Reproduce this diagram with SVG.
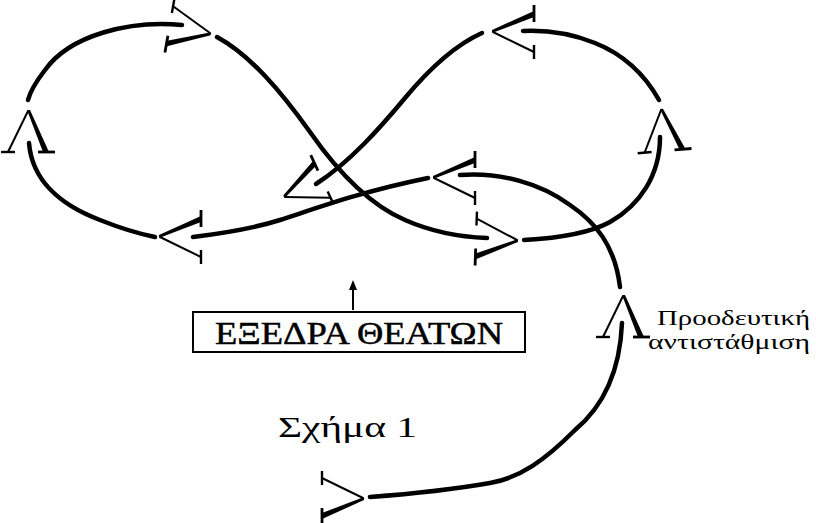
<svg xmlns="http://www.w3.org/2000/svg" width="816" height="523" viewBox="0 0 816 523">
<style>
.track{fill:none;stroke:#000;stroke-width:4.5;stroke-linecap:round;stroke-linejoin:round}
.lbl{font-family:"Liberation Serif","DejaVu Serif",serif;fill:#000}
</style>
<defs>
<g id="chev">
<path d="M-1,-1 L2,-1 L21,41 L15,41 Z" fill="#000"/>
<path d="M0,0 L-20,41" stroke="#000" stroke-width="2" fill="none"/>
<path d="M-27,41 H-13" stroke="#000" stroke-width="2.4" fill="none"/>
<path d="M10,41 H27" stroke="#000" stroke-width="2.8" fill="none"/>
</g>
<marker id="ah" viewBox="0 0 10 10" refX="5" refY="5" markerWidth="5" markerHeight="6" orient="auto">
<path d="M0,1 L10,5 L0,9 Z" fill="#000"/>
</marker>
</defs>
<rect width="816" height="523" fill="#fff"/>
<g id="connectors">
<path class="track" d="M182,25 C130,20 70,35 45,70 C35,83 30,92 28,100"/>
<path class="track" d="M29,143 C32,180 60,205 100,220 C120,228 140,234 155,237"/>
<path class="track" d="M193,237 C225,233 255,228 280,220 C320,207 360,192 428,178"/>
<path class="track" d="M460,175 C500,172 540,183 570,205 C595,222 615,245 620,287"/>
<path class="track" d="M622,323 C620,370 605,405 575,430 C545,460 520,478 490,483 C450,490 410,494 370,497"/>
<path class="track" d="M524,240 C560,238 590,233 610,222 C640,205 660,175 660,137"/>
<path class="track" d="M659,100 C645,75 625,55 595,43 C570,33 545,30 523,31"/>
<path class="track" d="M482,33 C455,45 430,68 405,98 C380,128 350,162 316,184"/>
<path class="track" d="M217,37 C250,55 280,90 310,132 C340,175 370,205 405,220 C430,231 460,237 487,238"/>
<path d="M353,310 V285" stroke="#000" stroke-width="2" fill="none" marker-end="url(#ah)"/>
</g>
<g id="chevrons">
<use href="#chev" transform="translate(210,33) rotate(100)"/>
<use href="#chev" transform="translate(28,111)"/>
<use href="#chev" transform="translate(160,237) rotate(-90)"/>
<use href="#chev" transform="translate(434,178) rotate(-90)"/>
<use href="#chev" transform="translate(623,296)"/>
<use href="#chev" transform="translate(363,498) rotate(90)"/>
<use href="#chev" transform="translate(517,240) rotate(92)"/>
<use href="#chev" transform="translate(661,110) rotate(-5)"/>
<use href="#chev" transform="translate(493,32) rotate(-90)"/>
<use href="#chev" transform="translate(285,197) rotate(-115)"/>
</g>
<g id="node-stands">
<rect x="193" y="312" width="332" height="40" fill="none" stroke="#000" stroke-width="2"/>
<text class="lbl" x="359" y="344" font-size="32" text-anchor="middle" textLength="288" lengthAdjust="spacingAndGlyphs" stroke="#000" stroke-width="0.5">ΕΞΕΔΡΑ ΘΕΑΤΩΝ</text>
</g>
<g id="node-label-comp">
<text class="lbl" x="657" y="325" font-size="22" textLength="153" lengthAdjust="spacingAndGlyphs">Προοδευτική</text>
<text class="lbl" x="648" y="349" font-size="22" textLength="162" lengthAdjust="spacingAndGlyphs">αντιστάθμιση</text>
</g>
<g id="node-caption">
<text class="lbl" x="278" y="437" font-size="30" textLength="139" lengthAdjust="spacingAndGlyphs">Σχήμα 1</text>
</g>
</svg>
